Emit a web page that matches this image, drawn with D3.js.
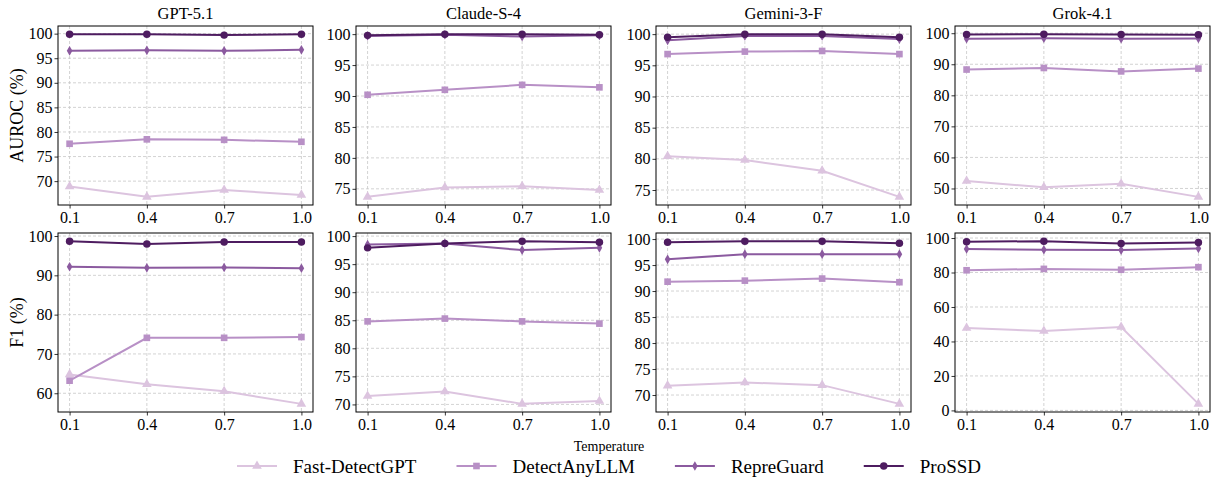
<!DOCTYPE html>
<html>
<head>
<meta charset="utf-8">
<script src="https://cdn.jsdelivr.net/npm/d3@7"></script>
<style>
  body { margin: 0; background: #fff; }
  svg, svg text { font-family: "Liberation Serif", "Times New Roman", serif !important; }
</style>
</head>
<body>
<div id="chart"></div>
<script>
// temperatures on the x axis
const temps = [0.1, 0.4, 0.7, 1.0];
const tempLabels = ['0.1', '0.4', '0.7', '1.0'];
const models = ['GPT-5.1', 'Claude-S-4', 'Gemini-3-F', 'Grok-4.1'];
const methods = ['Fast-DetectGPT', 'DetectAnyLLM', 'RepreGuard', 'ProSSD'];
const colors = ['#dcc4df', '#b890c6', '#8b5a9f', '#4e1c60'];
const symbols = ['triangle', 'square', 'diamond', 'circle'];

// AUROC (%) — rows follow the methods order
const aurocGPT = [
    [68.9, 66.8, 68.2, 67.2],
    [77.6, 78.5, 78.4, 78.0],
    [96.5, 96.6, 96.5, 96.7],
    [99.9, 99.9, 99.7, 99.9]
];
const aurocClaude = [
    [73.7, 75.2, 75.4, 74.8],
    [90.2, 91.0, 91.8, 91.4],
    [99.7, 99.9, 99.6, 99.8],
    [99.8, 100.0, 100.0, 99.9]
];
const aurocGemini = [
    [80.4, 79.8, 78.1, 73.9],
    [96.8, 97.2, 97.3, 96.8],
    [99.0, 99.7, 99.7, 99.2],
    [99.5, 100.0, 100.0, 99.5]
];
const aurocGrok = [
    [52.4, 50.4, 51.5, 47.3],
    [88.3, 88.8, 87.7, 88.6],
    [98.2, 98.4, 98.2, 98.3],
    [99.6, 99.7, 99.6, 99.5]
];

// F1 (%)
const f1GPT = [
    [64.8, 62.3, 60.5, 57.3],
    [63.2, 74.1, 74.1, 74.3],
    [92.2, 91.9, 92.0, 91.8],
    [98.7, 98.0, 98.5, 98.5]
];
const f1Claude = [
    [71.5, 72.3, 70.1, 70.6],
    [84.8, 85.3, 84.8, 84.4],
    [98.5, 98.7, 97.5, 97.9],
    [97.9, 98.7, 99.1, 98.9]
];
const f1Gemini = [
    [71.8, 72.4, 71.9, 68.3],
    [91.8, 92.0, 92.4, 91.7],
    [96.1, 97.1, 97.1, 97.1],
    [99.4, 99.6, 99.6, 99.2]
];
const f1Grok = [
    [47.8, 46.1, 48.4, 3.8],
    [81.3, 82.1, 81.6, 83.1],
    [93.6, 93.2, 93.0, 94.0],
    [97.8, 98.2, 96.8, 97.4]
];

// y tick labels per panel
const aurocTicks = [
    [70, 75, 80, 85, 90, 95, 100],
    [75, 80, 85, 90, 95, 100],
    [75, 80, 85, 90, 95, 100],
    [50, 60, 70, 80, 90, 100]
];
const f1Ticks = [
    [60, 70, 80, 90, 100],
    [70, 75, 80, 85, 90, 95, 100],
    [70, 75, 80, 85, 90, 95, 100],
    [0, 20, 40, 60, 80, 100]
];

const rows = [
    { label: 'AUROC (%)', data: [aurocGPT, aurocClaude, aurocGemini, aurocGrok], ticks: aurocTicks },
    { label: 'F1 (%)', data: [f1GPT, f1Claude, f1Gemini, f1Grok], ticks: f1Ticks }
];

const width = 1217;
const height = 479;
const panelLeft = [58, 356, 656, 955];
const panelW = 255;
const rowTop = [26, 233];
const panelH = 179;

const svg = d3.select('#chart')
    .append('svg')
    .attr('width', width)
    .attr('height', height);

// matplotlib style: data range padded by 5% on each side
function padded(ext) {
    const m = (ext[1] - ext[0]) * 0.05;
    return [ext[0] - m, ext[1] + m];
}

function markerPath(sym) {
    if (sym === 'triangle') return d3.symbol(d3.symbolTriangle, 40)();
    if (sym === 'square') return d3.symbol(d3.symbolSquare, 44)();
    if (sym === 'circle') return d3.symbol(d3.symbolCircle, 44)();
    return 'M0,-4.8L2.8,0L0,4.8L-2.8,0Z'; // thin diamond
}

rows.forEach((row, ri) => {
    row.data.forEach((series, ci) => {
        const x0 = panelLeft[ci];
        const y0 = rowTop[ri];

        const x = d3.scaleLinear()
            .domain(padded(d3.extent(temps)))
            .range([x0, x0 + panelW]);
        const y = d3.scaleLinear()
            .domain(padded(d3.extent(series.flat())))
            .range([y0 + panelH, y0]);

        const g = svg.append('g');

        // grid
        g.append('g')
            .selectAll('line')
            .data(temps)
            .join('line')
            .attr('x1', d => x(d)).attr('x2', d => x(d))
            .attr('y1', y0).attr('y2', y0 + panelH)
            .attr('stroke', '#c8c8c8')
            .attr('stroke-width', 0.8)
            .attr('stroke-dasharray', '3,2');
        g.append('g')
            .selectAll('line')
            .data(row.ticks[ci])
            .join('line')
            .attr('x1', x0).attr('x2', x0 + panelW)
            .attr('y1', d => y(d)).attr('y2', d => y(d))
            .attr('stroke', '#c8c8c8')
            .attr('stroke-width', 0.8)
            .attr('stroke-dasharray', '3,2');

        // series
        const line = d3.line()
            .x((d, i) => x(temps[i]))
            .y(d => y(d));

        series.forEach((vals, mi) => {
            g.append('path')
                .datum(vals)
                .attr('d', line)
                .attr('fill', 'none')
                .attr('stroke', colors[mi])
                .attr('stroke-width', 2);
            g.append('g')
                .selectAll('path')
                .data(vals)
                .join('path')
                .attr('transform', (d, i) => `translate(${x(temps[i])},${y(d)})`)
                .attr('d', markerPath(symbols[mi]))
                .attr('fill', colors[mi]);
        });

        // axes
        const xAxis = d3.axisBottom(x)
            .tickValues(temps)
            .tickFormat((d, i) => tempLabels[i])
            .tickSizeInner(3.5)
            .tickSizeOuter(0)
            .tickPadding(3);
        const yAxis = d3.axisLeft(y)
            .tickValues(row.ticks[ci])
            .tickFormat(d3.format('d'))
            .tickSizeInner(3.5)
            .tickSizeOuter(0)
            .tickPadding(2);

        const gx = g.append('g')
            .attr('transform', `translate(0,${y0 + panelH})`)
            .call(xAxis);
        const gy = g.append('g')
            .attr('transform', `translate(${x0},0)`)
            .call(yAxis);
        [gx, gy].forEach(a => {
            a.attr('font-family', null).attr('font-size', null);
            a.select('.domain').remove();
            a.selectAll('text')
                .style('font-size', '16px')
                .attr('fill', '#000');
            a.selectAll('line').attr('stroke', '#000').attr('stroke-width', 0.8);
        });

        // frame
        g.append('rect')
            .attr('x', x0).attr('y', y0)
            .attr('width', panelW).attr('height', panelH)
            .attr('fill', 'none')
            .attr('stroke', '#000')
            .attr('stroke-width', 1);

        if (ri === 0) {
            svg.append('text')
                .attr('x', x0 + panelW / 2)
                .attr('y', 19)
                .attr('text-anchor', 'middle')
                .style('font-size', '16.5px')
                .text(models[ci]);
        }
    });

    svg.append('text')
        .attr('transform', `translate(23,${rowTop[ri] + panelH / 2}) rotate(-90)`)
        .attr('text-anchor', 'middle')
        .style('font-size', '18px')
        .text(row.label);
});

// x axis title
svg.append('text')
    .attr('x', 609)
    .attr('y', 451)
    .attr('text-anchor', 'middle')
    .style('font-size', '14px')
    .text('Temperature');

// legend
const legend = svg.append('g');
const legendY = 466;
const handleLen = 40;
let cursor = 0;
methods.forEach((name, i) => {
    const item = legend.append('g');
    item.append('line')
        .attr('x1', 0).attr('x2', handleLen)
        .attr('y1', 0).attr('y2', 0)
        .attr('stroke', colors[i])
        .attr('stroke-width', 2);
    item.append('path')
        .attr('transform', `translate(${handleLen / 2},0)`)
        .attr('d', markerPath(symbols[i]))
        .attr('fill', colors[i]);
    const t = item.append('text')
        .attr('x', handleLen + 16)
        .attr('y', 6.5)
        .style('font-size', '19px')
        .text(name);
    const w = handleLen + 16 + t.node().getComputedTextLength();
    item.attr('transform', `translate(${cursor},${legendY})`);
    cursor += w + 40;
});
const legendW = cursor - 40;
legend.attr('transform', `translate(${609 - legendW / 2},0)`);
</script>
</body>
</html>
